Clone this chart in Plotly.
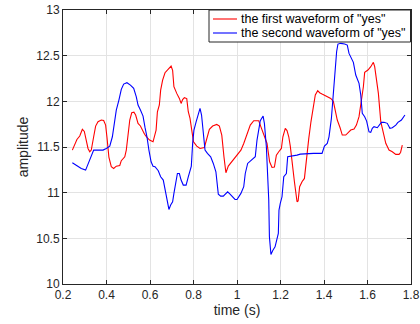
import plotly.graph_objects as go

t_first = [0.243, 0.252, 0.264, 0.277, 0.289, 0.298, 0.304, 0.315, 0.323, 0.330, 0.341, 0.350, 0.361, 0.376, 0.387,
           0.396, 0.402, 0.411, 0.422, 0.433, 0.445, 0.461, 0.468, 0.484, 0.491, 0.499, 0.507, 0.516, 0.526, 0.534,
           0.545, 0.556, 0.565, 0.575, 0.586, 0.598, 0.614,
           0.628, 0.634, 0.643, 0.649, 0.658, 0.669, 0.684, 0.697, 0.704, 0.710, 0.723, 0.735, 0.743, 0.750, 0.758,
           0.769, 0.776, 0.784, 0.792, 0.800, 0.815, 0.830, 0.850, 0.860, 0.873, 0.888, 0.907, 0.919, 0.930, 0.940,
           0.949, 0.960, 0.975, 0.991, 1.006,
           1.018, 1.031, 1.046, 1.061, 1.077, 1.100, 1.110, 1.126, 1.138, 1.150, 1.161, 1.172, 1.181, 1.192, 1.204,
           1.211, 1.222, 1.230, 1.238, 1.245, 1.253, 1.264, 1.276, 1.281, 1.288, 1.299, 1.310, 1.319, 1.330, 1.340,
           1.352, 1.360, 1.371, 1.380, 1.391, 1.400, 1.415, 1.431, 1.443,
           1.454, 1.461, 1.474, 1.484, 1.500, 1.510, 1.523, 1.538, 1.549, 1.561, 1.572, 1.581, 1.587, 1.602, 1.615,
           1.627, 1.633, 1.642, 1.650, 1.661, 1.673, 1.684, 1.699, 1.714, 1.730, 1.745, 1.752, 1.760]
a_first = [11.466, 11.51, 11.583, 11.62, 11.693, 11.67, 11.595, 11.484, 11.448, 11.466, 11.612, 11.729, 11.777, 11.795, 11.79,
           11.74, 11.61, 11.39, 11.284, 11.265, 11.29, 11.298, 11.35, 11.393, 11.466, 11.61, 11.795, 11.875, 11.882, 11.85,
           11.758, 11.73, 11.686, 11.64, 11.605, 11.576, 11.557,
           11.685, 11.886, 11.96, 12.123, 12.233, 12.313, 12.35, 12.386, 12.34, 12.16, 12.087, 12.032, 11.977, 12.02, 12.04,
           12.03, 11.886, 11.813, 11.685, 11.557, 11.51, 11.484, 11.495, 11.576, 11.693, 11.729, 11.747, 11.729, 11.63, 11.393,
           11.218, 11.291, 11.338, 11.386, 11.43,
           11.466, 11.539, 11.649, 11.74, 11.788, 11.788, 11.72, 11.612, 11.539, 11.338, 11.276, 11.28, 11.411, 11.448, 11.484,
           11.612, 11.704, 11.68, 11.612, 11.51, 11.32, 11.12, 10.9, 10.91, 11.065, 11.12, 11.156, 11.393, 11.594, 11.776,
           11.959, 12.069, 12.116, 12.094, 12.08, 12.069, 12.05, 12.032, 12.0,
           11.85, 11.795, 11.711, 11.631, 11.631, 11.66, 11.685, 11.697, 11.74, 11.832, 11.996, 12.16, 12.317, 12.343, 12.379,
           12.427, 12.38, 12.251, 12.087, 11.777, 11.631, 11.54, 11.466, 11.448, 11.419, 11.419, 11.44, 11.521]

t_second = [0.243, 0.261, 0.284, 0.304, 0.315, 0.330, 0.341, 0.361, 0.384, 0.399, 0.415, 0.427, 0.438, 0.445, 0.457,
            0.468, 0.479, 0.494, 0.510, 0.525, 0.537, 0.545, 0.556, 0.568, 0.577, 0.586, 0.595, 0.605,
            0.614, 0.623, 0.638, 0.649, 0.661, 0.669, 0.677, 0.687, 0.695, 0.704, 0.710, 0.720, 0.726, 0.735, 0.743,
            0.753, 0.766, 0.776, 0.784, 0.790, 0.796, 0.802, 0.812, 0.822, 0.830, 0.837, 0.845, 0.853, 0.864, 0.879,
            0.891, 0.903, 0.914, 0.925, 0.937, 0.949, 0.957, 0.968, 0.980, 0.991, 1.000,
            1.018, 1.031, 1.038, 1.049, 1.069, 1.084, 1.092, 1.100, 1.107, 1.120, 1.126, 1.135, 1.141, 1.146, 1.149,
            1.156, 1.165, 1.175, 1.190, 1.193, 1.199, 1.207, 1.215, 1.227, 1.233, 1.253, 1.276, 1.291, 1.322, 1.352,
            1.391, 1.402, 1.415, 1.423, 1.434, 1.443, 1.449, 1.458, 1.464, 1.477, 1.495, 1.507, 1.515, 1.526,
            1.535, 1.546, 1.553, 1.561, 1.569, 1.576, 1.587, 1.596, 1.607, 1.615, 1.622, 1.630, 1.645, 1.653, 1.664,
            1.676, 1.691, 1.703, 1.714, 1.730, 1.740, 1.756, 1.772]
a_second = [11.327, 11.302, 11.265, 11.247, 11.313, 11.411, 11.466, 11.466, 11.466, 11.484, 11.51, 11.612, 11.776, 11.904, 12.014,
            12.131, 12.189, 12.204, 12.178, 12.142, 12.05, 11.959, 11.904, 11.839, 11.714, 11.612, 11.466, 11.338,
            11.29, 11.284, 11.24, 11.174, 11.138, 11.046, 10.919, 10.816, 10.864, 10.9, 10.992, 11.138, 11.21, 11.21, 11.138,
            11.083, 11.083, 11.174, 11.247, 11.291, 11.539, 11.685, 11.776, 11.85, 11.923, 11.85, 11.63, 11.466, 11.43, 11.393,
            11.32, 11.229, 10.984, 10.962, 10.962, 10.992, 11.01, 10.984, 10.955, 10.926, 10.926,
            10.992, 11.065, 11.21, 11.32, 11.357, 11.393, 11.576, 11.722, 11.788, 11.839, 11.758, 11.503, 11.21, 10.919, 10.517,
            10.324, 10.37, 10.407, 10.554, 10.81, 10.882, 10.955, 11.174, 11.21, 11.393, 11.4, 11.411, 11.422, 11.43, 11.43,
            11.43, 11.51, 11.54, 11.612, 11.813, 12.069, 12.324, 12.543, 12.627, 12.635, 12.627, 12.616, 12.525, 12.47,
            12.427, 12.288, 12.251, 12.197, 12.069, 11.868, 11.832, 11.784, 11.667, 11.66, 11.704, 11.722, 11.711, 11.74, 11.77,
            11.77, 11.759, 11.704, 11.711, 11.74, 11.77, 11.795, 11.85]

series_names = ['the first waveform of "yes"', 'the second waveform of "yes"']
series_colors = ["#ff0000", "#0000ff"]

x_ticks = [0.2, 0.4, 0.6, 0.8, 1.0, 1.2, 1.4, 1.6, 1.8]
x_labels = ["0.2", "0.4", "0.6", "0.8", "1", "1.2", "1.4", "1.6", "1.8"]
y_ticks = [10, 10.5, 11, 11.5, 12, 12.5, 13]
y_labels = ["10", "10.5", "11", "11.5", "12", "12.5", "13"]

axis_color = "#262626"
font_family = "Liberation Sans, Arial, sans-serif"

W, H = 420, 324
L, R, T, B = 63, 9, 10, 40
pw, ph = W - L - R, H - T - B

def px_x(px):
    return (px - L) / pw

def px_y(py):
    return (H - B - py) / ph

fig = go.Figure()
fig.add_trace(go.Scatter(x=t_first, y=a_first, mode="lines", name=series_names[0],
                         line=dict(color=series_colors[0], width=1.1)))
fig.add_trace(go.Scatter(x=t_second, y=a_second, mode="lines", name=series_names[1],
                         line=dict(color=series_colors[1], width=1.1)))

axis_common = dict(showline=True, linecolor=axis_color, linewidth=1, mirror="ticks",
                   ticks="inside", ticklen=4, tickcolor=axis_color, automargin=False,
                   showgrid=True, gridcolor="#e3e3e3", gridwidth=1, zeroline=False,
                   tickfont=dict(family=font_family, size=12, color=axis_color))

fig.update_xaxes(range=[0.2, 1.8], tickvals=x_ticks, ticktext=x_labels,
                 title=dict(text="time (s)", font=dict(family=font_family, size=14, color=axis_color), standoff=3),
                 **axis_common)
fig.update_yaxes(range=[10, 13], tickvals=y_ticks, ticktext=y_labels,
                 title=dict(text="amplitude", font=dict(family=font_family, size=14, color=axis_color), standoff=4),
                 **axis_common)

# legend box drawn manually (paper coordinates from pixel positions)
shapes = [dict(type="rect", xref="paper", yref="paper",
               x0=px_x(209), x1=px_x(410.5), y0=px_y(42), y1=px_y(10),
               line=dict(color=axis_color, width=1), fillcolor="white", layer="above")]
annotations = []
row_y = [19, 33]
for name, color, ry in zip(series_names, series_colors, row_y):
    shapes.append(dict(type="line", xref="paper", yref="paper",
                       x0=px_x(213), x1=px_x(237), y0=px_y(ry), y1=px_y(ry),
                       line=dict(color=color, width=1.1), layer="above"))
    annotations.append(dict(text=name, xref="paper", yref="paper", x=px_x(239), y=px_y(ry),
                            xanchor="left", yanchor="middle", showarrow=False,
                            font=dict(family=font_family, size=12.5, color="#000000")))

fig.update_layout(
    width=W, height=H,
    margin=dict(l=L, r=R, t=T, b=B, autoexpand=False),
    paper_bgcolor="white", plot_bgcolor="white",
    font=dict(family=font_family, color=axis_color),
    showlegend=False,
    shapes=shapes, annotations=annotations,
)

fig.write_html("out.html", config={"displayModeBar": False},
               post_script="document.body.style.margin='0px'; document.body.style.padding='0px';")
